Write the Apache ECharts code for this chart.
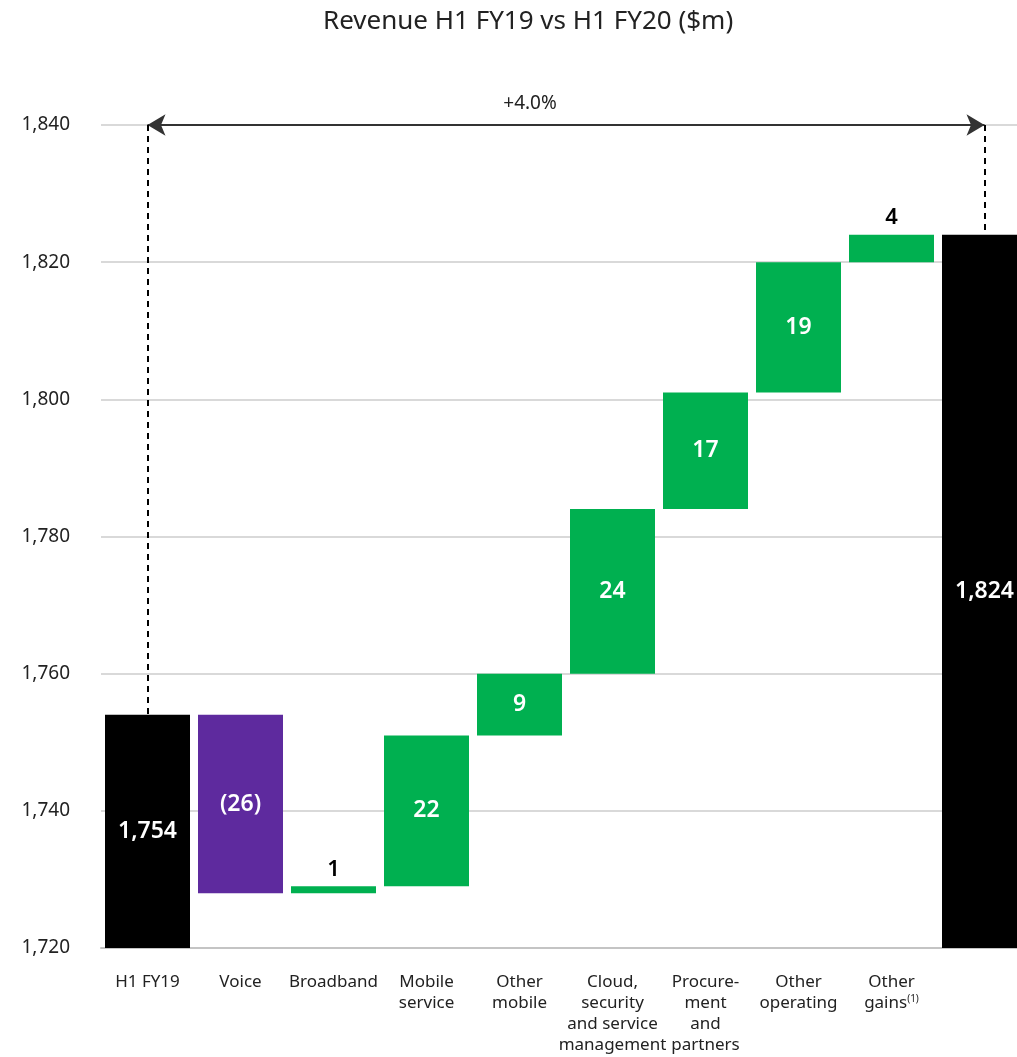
<!DOCTYPE html>
<html>
<head>
<meta charset="utf-8">
<script src="https://cdn.jsdelivr.net/npm/echarts@6/dist/echarts.min.js"></script>
<style>
  html, body { margin: 0; padding: 0; background: #fff; overflow: hidden; }
</style>
</head>
<body>
<div id="waterfall" style="width:1032px;height:1057px"></div>
<script>
// 数据
var categories = ["H1 FY19", "Voice", "Broadband", "Mobile\nservice", "Other\nmobile",
  "Cloud,\nsecurity\nand service\nmanagement", "Procure-\nment\nand\npartners",
  "Other\noperating", "Other\ngains", ""];
var startTotal = 1754;
var deltas = [-26, 1, 22, 9, 24, 17, 19, 4];
var endTotal = 1824;
var yTicks = [1720, 1740, 1760, 1780, 1800, 1820, 1840];
var growthLabel = "+4.0%";

var axisMin = yTicks[0];
var axisMax = yTicks[yTicks.length - 1];

// 瀑布图: 透明底座 + 可见柱
var baseData = [axisMin];
var barData = [{ value: startTotal - axisMin, itemStyle: { color: "#000000" }, shown: startTotal, kind: "total" }];
var running = startTotal;
deltas.forEach(function (d) {
  var next = running + d;
  baseData.push(Math.min(running, next));
  var small = Math.abs(d) < 5;
  barData.push({
    value: Math.abs(d),
    shown: d,
    kind: "step",
    itemStyle: { color: d < 0 ? "#5E2A9E" : "#00B050" },
    label: small ? { position: "top", color: "#000", fontSize: 22, distance: 6 } : {}
  });
  running = next;
});
baseData.push(axisMin);
barData.push({ value: endTotal - axisMin, itemStyle: { color: "#000000" }, shown: endTotal, kind: "total" });

var dom = document.getElementById("waterfall");
var myChart = echarts.init(dom);
var option = {
  animation: false,
  textStyle: { fontFamily: "'Noto Sans', sans-serif" },
  title: {
    text: "Revenue H1 FY19 vs H1 FY20 ($m)",
    left: 318,
    top: 4,
    textStyle: { fontSize: 26, fontWeight: "normal", color: "#222" }
  },
  grid: { left: 101, top: 125, width: 930, height: 823, containLabel: false },
  xAxis: {
    type: "category",
    data: categories,
    axisTick: { show: false },
    axisLine: { lineStyle: { color: "#c4c4c4", width: 2 } },
    axisLabel: {
      interval: 0,
      margin: 24,
      fontSize: 17,
      lineHeight: 21,
      color: "#222",
      formatter: function (v) {
        if (v === "Other\ngains") return "Other\ngains{sup|(1)}";
        return v;
      },
      rich: {
        sup: { fontSize: 10, color: "#222", padding: [0, 0, 9, 0] }
      }
    }
  },
  yAxis: {
    type: "value",
    min: axisMin,
    max: axisMax,
    interval: 20,
    axisLine: { show: false },
    axisTick: { show: false },
    splitLine: { lineStyle: { color: "#d9d9d9", width: 2 } },
    axisLabel: {
      fontSize: 19,
      color: "#222",
      margin: 31,
      formatter: function (v) { return v.toLocaleString("en-US"); }
    }
  },
  series: [
    {
      name: "base",
      type: "bar",
      stack: "w",
      barWidth: 85,
      itemStyle: { color: "transparent" },
      silent: true,
      data: baseData,
      markLine: {
        silent: true,
        symbolSize: [16, 18],
        data: [
          [
            { coord: [categories[0], axisMax], symbol: "arrow" },
            { coord: [categories[9], axisMax], symbol: "arrow",
              label: { show: true, formatter: growthLabel, position: "middle", offset: [-36, 0] } }
          ],
          [
            { coord: [categories[0], axisMax], symbol: "none" },
            { coord: [categories[0], startTotal], symbol: "none",
              lineStyle: { type: [6, 5], color: "#000", width: 2 } }
          ],
          [
            { coord: [categories[9], axisMax], symbol: "none" },
            { coord: [categories[9], endTotal], symbol: "none",
              lineStyle: { type: [6, 5], color: "#000", width: 2 } }
          ]
        ],
        lineStyle: { color: "#333", width: 2, type: "solid" },
        label: { show: false, fontSize: 19, color: "#222", distance: 12 }
      }
    },
    {
      name: "value",
      type: "bar",
      stack: "w",
      barWidth: 85,
      data: barData,
      label: {
        show: true,
        position: "inside",
        color: "#fff",
        fontSize: 23,
        fontWeight: 600,
        formatter: function (p) {
          var s = p.data.shown;
          if (p.data.kind === "total") return s.toLocaleString("en-US");
          return s < 0 ? "(" + Math.abs(s) + ")" : String(s);
        }
      }
    }
  ]
};
// 绘制图表
myChart.setOption(option);
</script>
</body>
</html>
